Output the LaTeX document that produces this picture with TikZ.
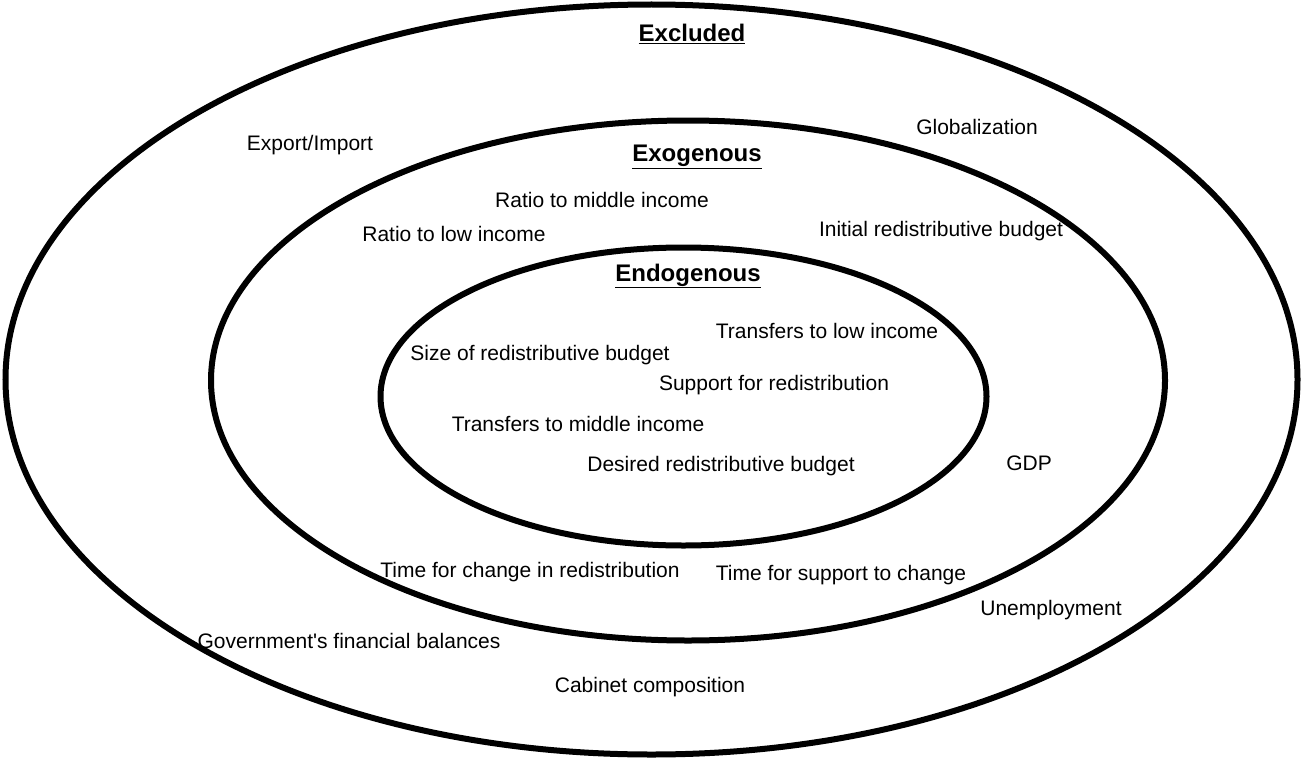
\documentclass[tikz,border=0pt]{standalone}
\usepackage{fontspec}
\setmainfont{Liberation Sans}
\usepackage{tikz}
\usetikzlibrary{positioning}

\begin{document}
\begin{tikzpicture}[x=1pt,y=-1pt,
  every node/.style={inner sep=0pt,font=\fontsize{21}{24}\selectfont},
  ring/.style={line width=6pt},
  title/.style={font=\fontsize{24}{27}\selectfont\bfseries}]

  \useasboundingbox (0,0) rectangle (1306,760);

  % three rings
  \draw[ring] (651.5,379.5) ellipse [x radius=646pt, y radius=375pt];
  \draw[ring] (688,380.5) ellipse [x radius=477pt, y radius=260pt];
  \draw[ring] (683.5,396.5) ellipse [x radius=303pt, y radius=149pt];

  % headings
  \node[title] (excl) at (692,34) {\underline{Excluded}};
  \node[title] (exog) at (697,157) {\underline{Exogenous}};
  \node[title] (endo) at (688,276) {\underline{Endogenous}};

  % excluded factors
  \node (expimp) at (310,145) {Export/Import};
  \node (glob) at (977,127) {Globalization};
  \node (unemp) at (1051,610) {Unemployment};
  \node (govbal) at (349,641) {Government\textquotesingle s financial balances};
  \node (cabinet) at (650,687) {Cabinet composition};

  % exogenous factors
  \node (ratiomid) at (602,200) {Ratio to middle income};
  \node (ratiolow) at (454,234) {Ratio to low income};
  \node (initbud) at (941,231) {Initial redistributive budget};
  \node (gdp) at (1029,463) {GDP};
  \node (timeredis) at (530,572) {Time for change in redistribution};
  \node (timesupp) at (841,575) {Time for support to change};

  % endogenous factors
  \node (translow) at (827,331) {Transfers to low income};
  \node (sizebud) at (540,355) {Size of redistributive budget};
  \node (support) at (774,385) {Support for redistribution};
  \node (transmid) at (578,424) {Transfers to middle income};
  \node (desbud) at (721,466) {Desired redistributive budget};
\end{tikzpicture}
\end{document}
